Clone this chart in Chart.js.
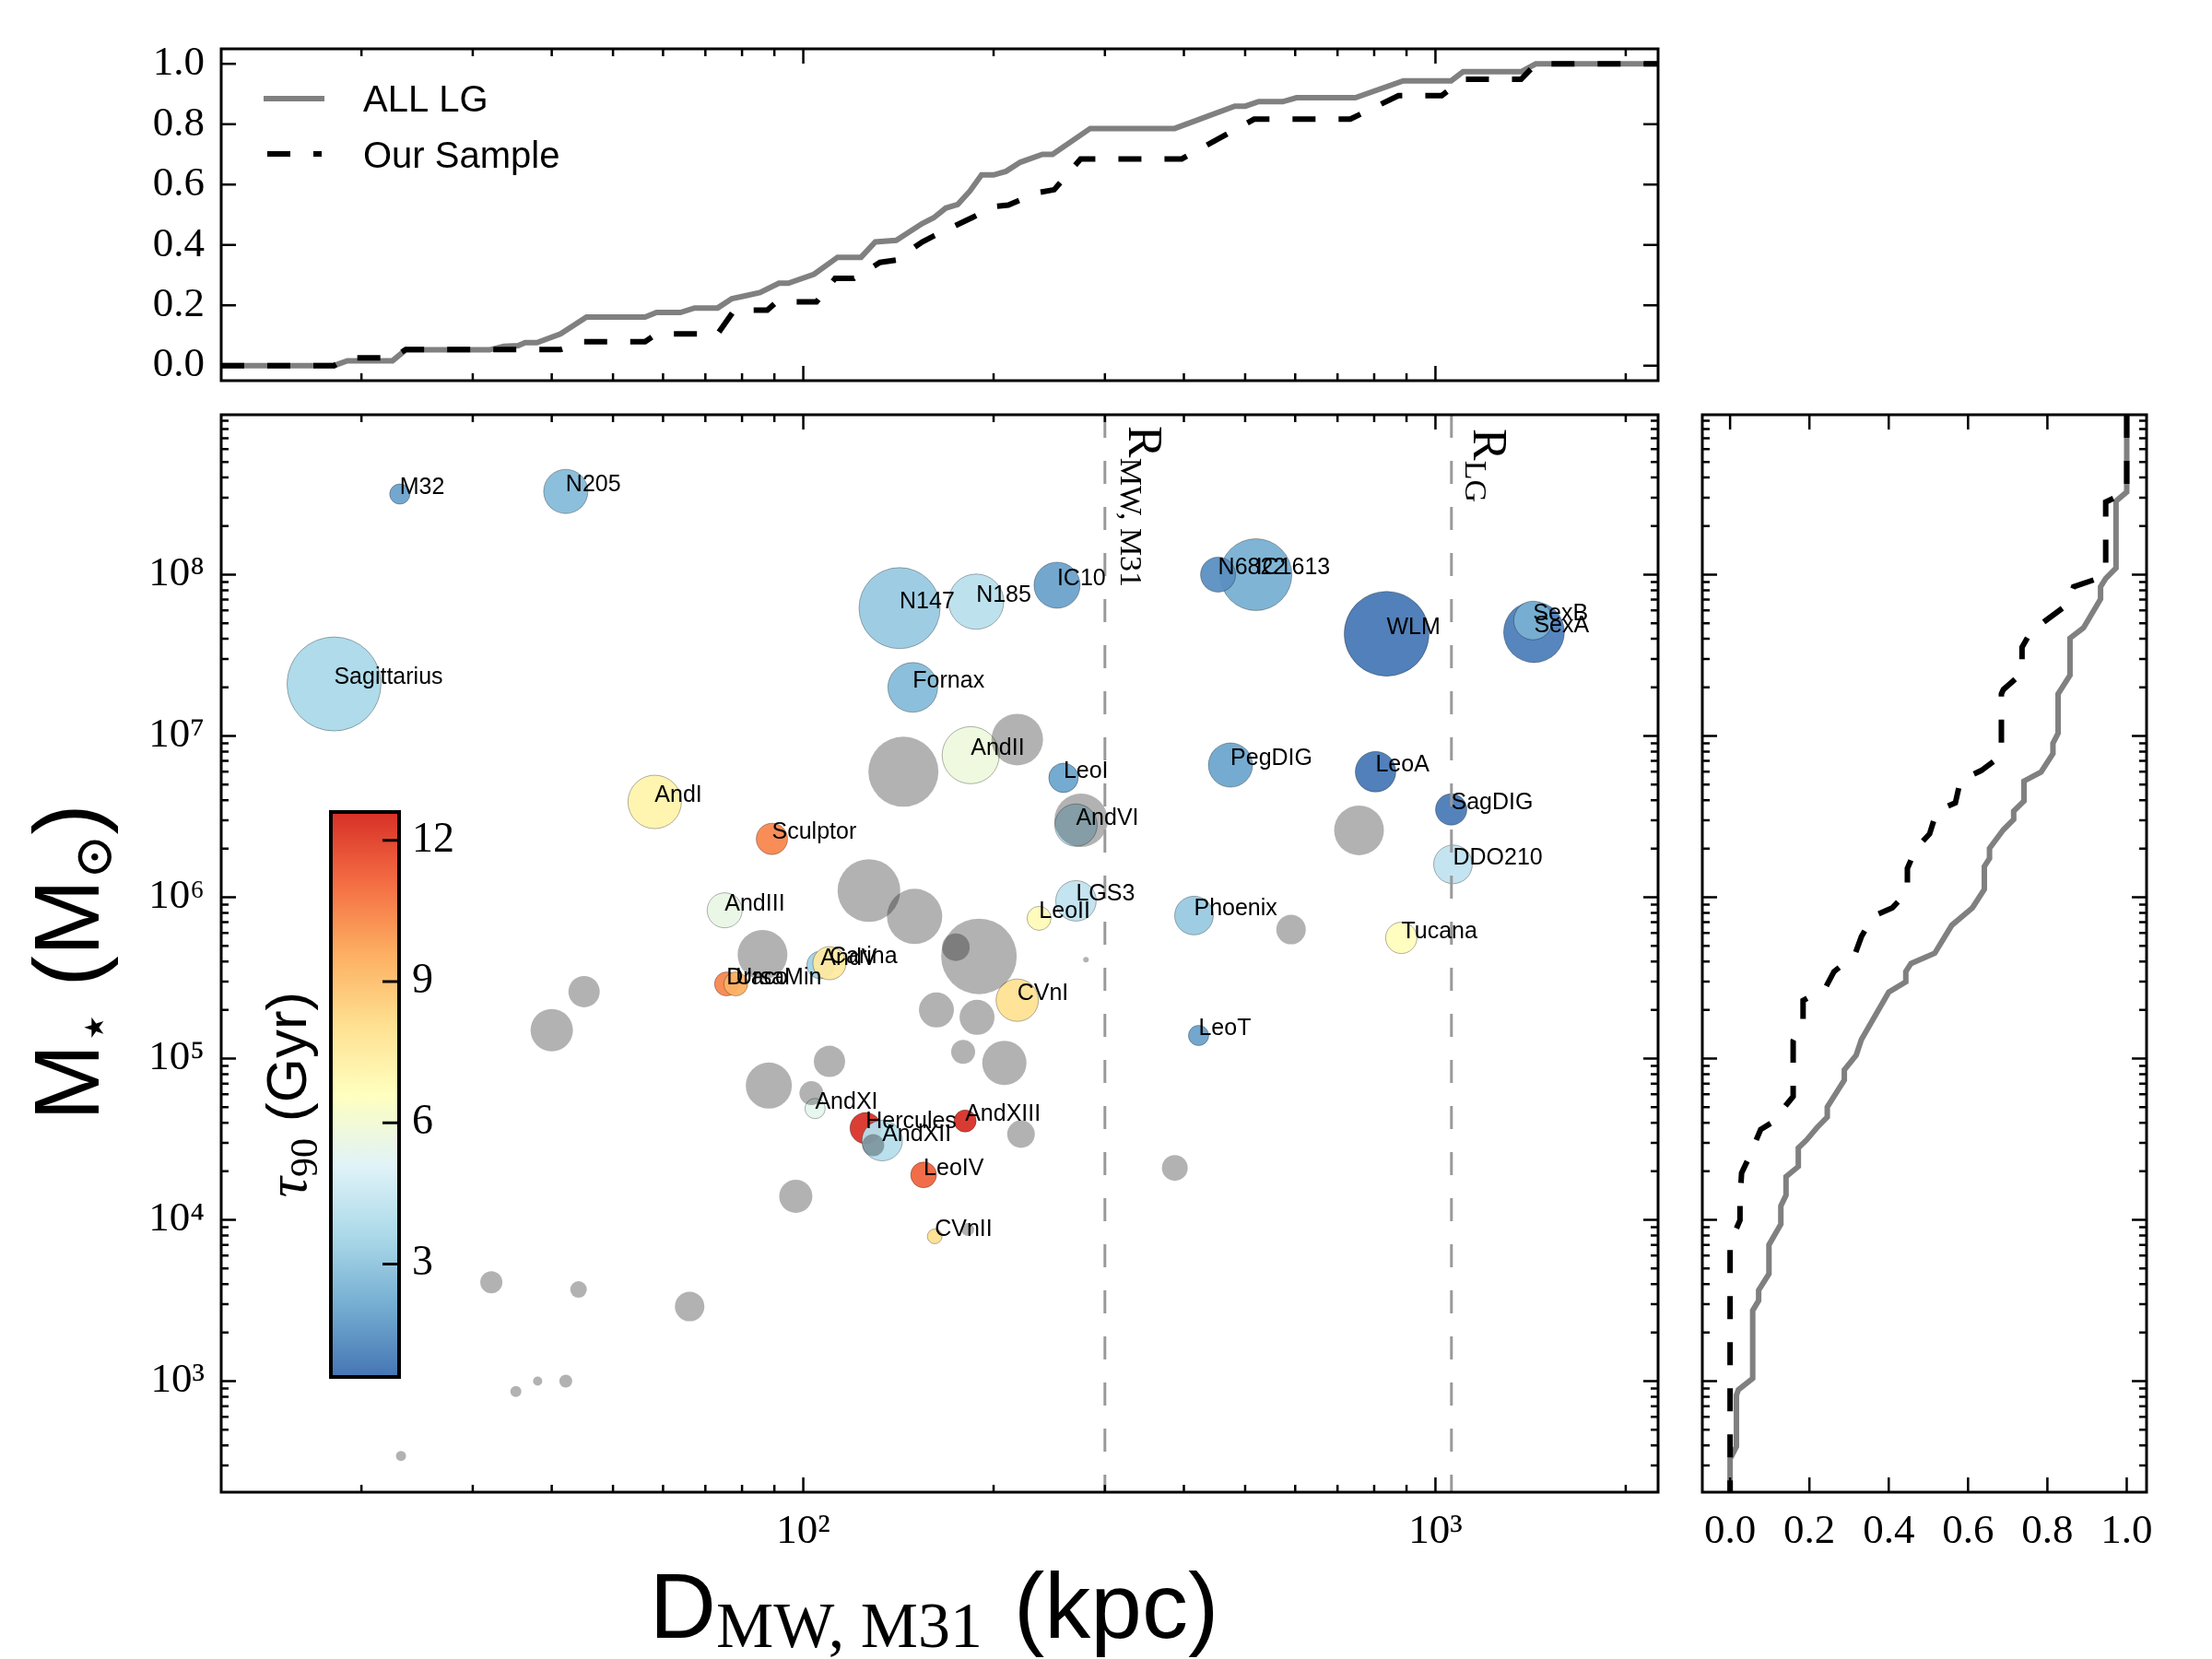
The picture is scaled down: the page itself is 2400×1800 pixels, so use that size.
<!DOCTYPE html>
<html>
<head>
<meta charset="utf-8">
<script src="https://cdn.jsdelivr.net/npm/chart.js@4.4.1/dist/chart.umd.min.js"></script>
<style>
  html, body { margin: 0; padding: 0; background: #fff; }
  #wrap { position: relative; width: 2400px; height: 1800px; background: #fff; }
  canvas { position: absolute; }
</style>
</head>
<body>
<div id="wrap">
  <canvas id="top" width="1830" height="430" style="left:0px;top:0px"></canvas>
  <canvas id="main" width="1830" height="1370" style="left:0px;top:430px"></canvas>
  <canvas id="side" width="570" height="1370" style="left:1830px;top:430px"></canvas>
  <canvas id="cbar" width="270" height="660" style="left:250px;top:860px"></canvas>
</div>
<script>
// 我们样本中的矮星系（彩色点）
const names = ['Sagittarius', 'M32', 'N205', 'AndI', 'AndIII', 'Draco', 'UrsaMin', 'Sculptor',
  'AndXI', 'AndV', 'Carina', 'Hercules', 'AndXII', 'N147', 'Fornax', 'LeoIV', 'CVnII', 'AndXIII',
  'AndII', 'N185', 'CVnI', 'LeoII', 'IC10', 'LeoI', 'AndVI', 'LGS3', 'Phoenix', 'LeoT',
  'IC1613', 'N6822', 'PegDIG', 'LeoA', 'WLM', 'Tucana', 'SagDIG', 'DDO210', 'SexA', 'SexB'];
const distKpc = [18.1, 23.0, 42.1, 58.2, 75.1, 75.6, 78.2, 89.2,
  104.4, 106.5, 110, 125.5, 133.3, 142, 149, 155, 161.4, 180.3,
  184, 187.7, 218, 236, 252, 258, 270, 270, 415, 422,
  520, 453, 474, 804, 837, 883, 1059, 1066, 1432, 1427];
const mStar = [2.1e7, 3.16e8, 3.28e8, 3.9e6, 8.3e5, 2.9e5, 2.9e5, 2.3e6,
  4.9e4, 3.8e5, 3.9e5, 3.7e4, 3.1e4, 6.2e7, 2.0e7, 1.9e4, 7.9e3, 4.1e4,
  7.6e6, 6.8e7, 2.3e5, 7.4e5, 8.6e7, 5.5e6, 2.8e6, 9.5e5, 7.7e5, 1.39e5,
  1.0e8, 1.0e8, 6.6e6, 6.0e6, 4.3e7, 5.6e5, 3.5e6, 1.6e6, 4.4e7, 5.2e7];
const tau90 = [3.6, 1.8, 2.6, 7.2, 5.6, 10.5, 9.5, 10.5,
  5.4, 3.4, 7.6, 12.5, 3.9, 3.1, 2.6, 11.3, 8.1, 12.6,
  5.8, 4.0, 8.0, 6.8, 1.8, 1.9, 4.0, 4.2, 3.1, 1.8,
  2.2, 1.3, 1.9, 0.7, 0.7, 6.7, 0.8, 4.2, 0.9, 2.2];
const markerR = [51, 11, 24, 29, 19, 13, 13, 17,
  11, 15, 18, 17, 22, 44, 27, 14, 8, 12,
  31, 30, 23, 13, 25, 16, 23, 22, 21, 11,
  39, 19, 24, 22, 46, 17, 17, 21, 33, 21];

// 其余本星系群星系（灰色点）
const otherDist = [144, 218, 127, 150, 86.2, 189.6, 174.3, 275, 45, 40, 162.4, 188.3, 179, 208,
  110, 88.2, 103, 129, 221, 97.3, 182, 387, 591, 757, 280, 32.1, 44.1, 66.1, 35.1, 38.0, 42.1, 23.1];
const otherMass = [6.0e6, 9.5e6, 1.1e6, 7.6e5, 4.4e5, 4.3e5, 4.9e5, 3.0e6, 2.6e5, 1.5e5, 2.0e5, 1.8e5, 1.1e5, 9.4e4,
  9.6e4, 6.8e4, 6.1e4, 2.9e4, 3.4e4, 1.4e4, 8.7e3, 2.1e4, 6.3e5, 2.6e6, 4.1e5, 4.1e3, 3.7e3, 2.9e3, 863, 1.0e3, 1.0e3, 344];
const otherR = [38, 28, 34, 30, 27, 41, 15, 29, 17, 23, 19, 19, 13, 24,
  17, 25, 13, 12, 15, 18, 7, 14, 16, 27, 3, 12, 9, 16, 6, 5, 7, 5.5];

// 上图：距离的累积分布
const cdfAllD = [12, 18.1, 19, 22.4, 23.5, 31.9, 33.6, 35.4, 36.3, 37.9, 41.3, 45.4, 56.2, 58.6, 63.9, 67.3,
  73.2, 77.1, 81.2, 85.4, 91.5, 94.7, 104, 113.3, 123.4, 130, 140.3, 154.2, 160.8, 168, 175.5, 183.4,
  191.4, 200, 209.3, 220.4, 238.9, 247.9, 284.4, 386.7, 481.4, 500.4, 525.3, 573.3, 602.8, 746.9,
  889.3, 1059, 1106, 1366, 1441, 2250];
const cdfAllF = [0, 0, 0.016, 0.016, 0.052, 0.052, 0.064, 0.066, 0.076, 0.076, 0.105, 0.161, 0.161, 0.176, 0.176, 0.191,
  0.191, 0.222, 0.232, 0.242, 0.273, 0.273, 0.303, 0.359, 0.359, 0.41, 0.415, 0.471, 0.49, 0.522, 0.534, 0.578,
  0.632, 0.632, 0.644, 0.674, 0.70, 0.70, 0.786, 0.786, 0.86, 0.86, 0.875, 0.875, 0.888, 0.888,
  0.944, 0.944, 0.974, 0.974, 1.0, 1.0];
const cdfOurD = [12, 18.1, 19, 22.4, 23.5, 41.3, 45, 56.2, 58.6, 73.2, 77.8, 87.7, 90.7, 104.9, 112.3, 120.3,
  132.2, 140.3, 154.2, 161, 185.1, 200.4, 211, 234.5, 249.4, 274.6, 396.9, 516.6, 733.3, 874, 1023,
  1106, 1366, 1441, 2250];
const cdfOurF = [0, 0, 0.026, 0.026, 0.053, 0.053, 0.079, 0.079, 0.105, 0.105, 0.184, 0.184, 0.211, 0.211, 0.289, 0.289,
  0.342, 0.35, 0.41, 0.43, 0.491, 0.527, 0.532, 0.573, 0.583, 0.685, 0.685, 0.817, 0.817, 0.895, 0.895,
  0.949, 0.949, 1.0, 1.0];

// 右图：恒星质量的累积分布
const cdfAllMF = [1.0, 1.0, 0.973, 0.973, 0.947, 0.934, 0.934, 0.891, 0.857, 0.857, 0.827, 0.827, 0.814, 0.814,
  0.784, 0.741, 0.741, 0.715, 0.715, 0.689, 0.654, 0.654, 0.641, 0.641, 0.611, 0.559, 0.516, 0.456, 0.443,
  0.443, 0.40, 0.331, 0.318, 0.288, 0.288, 0.245, 0.245, 0.219, 0.193, 0.172, 0.172, 0.141, 0.141, 0.128,
  0.128, 0.098, 0.098, 0.072, 0.072, 0.057, 0.057, 0.021, 0.016, 0.016, 0.0, 0.0];
const cdfAllM = [9.8e8, 3.25e8, 2.86e8, 1.10e8, 9.46e7, 8.41e7, 7.05e7, 4.68e7, 4.04e7, 2.38e7, 1.82e7, 1.04e7, 9.0e6, 7.78e6,
  5.97e6, 5.25e6, 3.95e6, 3.42e6, 3.04e6, 2.62e6, 2.01e6, 1.74e6, 1.55e6, 1.12e6, 8.6e5, 6.71e5, 4.5e5, 3.88e5, 3.46e5,
  2.99e5, 2.58e5, 1.31e5, 1.05e5, 8.5e4, 7.35e4, 5.0e4, 4.33e4, 3.73e4, 3.13e4, 2.79e4, 2.14e4, 1.85e4, 1.42e4, 1.22e4,
  9.4e3, 7.0e3, 4.63e3, 3.66e3, 3.16e3, 2.74e3, 1.04e3, 885, 818, 393, 330, 205];
const cdfOurMF = [1.0, 1.0, 0.947, 0.947, 0.92, 0.866, 0.848, 0.792, 0.758, 0.736, 0.736, 0.689, 0.684, 0.684,
  0.633, 0.581, 0.568, 0.521, 0.503, 0.469, 0.447, 0.447, 0.409, 0.361, 0.331, 0.314, 0.262, 0.24, 0.184,
  0.184, 0.159, 0.159, 0.146, 0.107, 0.077, 0.047, 0.029, 0.025, 0.025, 0.0, 0.0];
const cdfOurM = [9.8e8, 3.25e8, 2.82e8, 1.07e8, 9.33e7, 8.41e7, 6.46e7, 5.11e7, 4.41e7, 3.55e7, 2.45e7, 1.94e7, 1.82e7, 7.55e6,
  6.1e6, 5.33e6, 3.85e6, 3.42e6, 2.47e6, 2.01e6, 1.51e6, 1.08e6, 8.6e5, 7.64e5, 5.69e5, 4.37e5, 3.46e5, 2.73e5, 2.29e5,
  1.71e5, 1.29e5, 5.82e4, 5.32e4, 4.03e4, 3.63e4, 2.42e4, 1.95e4, 1.33e4, 9.95e3, 7.2e3, 205];

// 坐标轴范围与刻度
const xRange = [12, 2250];
const yRange = [205, 9.8e8];
const fracRangeTop = [-0.05, 1.05];
const fracRangeSide = [-0.07, 1.05];
const xMajor = [100, 1000];
const yMajor = [1e3, 1e4, 1e5, 1e6, 1e7, 1e8];
const fracTicks = [0, 0.2, 0.4, 0.6, 0.8, 1.0];
const cbarRange = [0.6, 12.6];
const cbarTicks = [3, 6, 9, 12];
const rLineD = [300, 1060];

// 配色 (RdYlBu 9 色, 反转)
const cmapStops = ['#4575b4', '#74add1', '#abd9e9', '#e0f3f8', '#ffffbf', '#fee090', '#fdae61', '#f46d43', '#d73027'];

Chart.defaults.animation = false;
Chart.defaults.responsive = false;
Chart.defaults.devicePixelRatio = 1;
Chart.defaults.events = [];
Chart.defaults.plugins.legend.display = false;
Chart.defaults.plugins.tooltip.enabled = false;
Chart.defaults.color = '#000';

const SERIF = '"Liberation Serif", "DejaVu Serif", serif';
const SANS = '"Liberation Sans", Arial, sans-serif';
const tickFont = { family: SERIF, size: 45 };
const sup = { 2: '\u00b2', 3: '\u00b3', 4: '\u2074', 5: '\u2075', 6: '\u2076', 7: '\u2077', 8: '\u2078' };

function hexRgb(h) {
  return [parseInt(h.slice(1, 3), 16), parseInt(h.slice(3, 5), 16), parseInt(h.slice(5, 7), 16)];
}

// 根据 tau90 取颜色
function cmap(v, alpha) {
  let t = (v - cbarRange[0]) / (cbarRange[1] - cbarRange[0]);
  t = Math.max(0, Math.min(1, t));
  const pos = t * (cmapStops.length - 1);
  const i = Math.min(Math.floor(pos), cmapStops.length - 2);
  const f = pos - i;
  const a = hexRgb(cmapStops[i]), b = hexRgb(cmapStops[i + 1]);
  const c = a.map((x, k) => Math.round(x + (b[k] - x) * f));
  return `rgba(${c[0]}, ${c[1]}, ${c[2]}, ${alpha})`;
}

function logMinors(lo, hi) {
  const out = [];
  for (let e = Math.floor(Math.log10(lo)); e <= Math.ceil(Math.log10(hi)); e++) {
    for (let m = 2; m <= 9; m++) {
      const v = m * Math.pow(10, e);
      if (v > lo && v < hi) out.push(v);
    }
  }
  return out;
}

// 固定坐标轴占位大小
function fixAxis(size, dim) {
  return (s) => {
    s[dim] = size;
    s.paddingTop = 0; s.paddingBottom = 0; s.paddingLeft = 0; s.paddingRight = 0;
  };
}

function setTicks(vals) {
  return (s) => { s.ticks = vals.map(v => ({ value: v })); };
}

// 混合字体文字（下标等）
function drawRich(ctx, parts, x, y, angle, anchor) {
  ctx.save();
  let w = 0;
  parts.forEach(p => {
    if (p.gap) { w += p.gap; return; }
    ctx.font = p.font;
    p.w = ctx.measureText(p.t).width;
    w += p.w;
  });
  ctx.translate(x, y);
  ctx.rotate(angle);
  ctx.fillStyle = '#000';
  ctx.textBaseline = 'alphabetic';
  ctx.textAlign = 'left';
  let cx = anchor === 'center' ? -w / 2 : 0;
  parts.forEach(p => {
    if (p.gap) { cx += p.gap; return; }
    ctx.font = p.font;
    ctx.fillText(p.t, cx, p.dy || 0);
    cx += p.w;
  });
  ctx.restore();
}

// 向内的刻度线和边框
function frameTicks(spec) {
  return {
    id: 'frameTicks',
    afterDraw(chart) {
      const { ctx, chartArea: a } = chart;
      const xs = chart.scales.x, ys = chart.scales.y;
      ctx.save();
      ctx.strokeStyle = '#000';
      ctx.lineWidth = 2.5;
      ctx.beginPath();
      const xt = (vals, len) => vals.forEach(v => {
        const p = xs.getPixelForValue(v);
        if (p < a.left + 1 || p > a.right - 1) return;
        ctx.moveTo(p, a.bottom); ctx.lineTo(p, a.bottom - len);
        ctx.moveTo(p, a.top); ctx.lineTo(p, a.top + len);
      });
      const yt = (vals, len) => vals.forEach(v => {
        const p = ys.getPixelForValue(v);
        if (p < a.top + 1 || p > a.bottom - 1) return;
        ctx.moveTo(a.left, p); ctx.lineTo(a.left + len, p);
        ctx.moveTo(a.right, p); ctx.lineTo(a.right - len, p);
      });
      xt(spec.xMajor || [], 16); xt(spec.xMinor || [], 8);
      yt(spec.yMajor || [], 16); yt(spec.yMinor || [], 8);
      ctx.stroke();
      ctx.lineWidth = 3;
      ctx.strokeRect(a.left, a.top, a.right - a.left, a.bottom - a.top);
      ctx.restore();
    }
  };
}

const xMinor = logMinors(xRange[0], xRange[1]);
const yMinor = logMinors(yRange[0], yRange[1]);

// ---------- 上图 ----------
const legendPlugin = {
  id: 'cdfLegend',
  afterDraw(chart) {
    const ctx = chart.ctx;
    ctx.save();
    ctx.lineWidth = 6;
    ctx.strokeStyle = '#808080';
    ctx.beginPath(); ctx.moveTo(286, 107); ctx.lineTo(352, 107); ctx.stroke();
    ctx.strokeStyle = '#000';
    ctx.setLineDash([25, 25]);
    ctx.beginPath(); ctx.moveTo(290, 167); ctx.lineTo(349, 167); ctx.stroke();
    ctx.setLineDash([]);
    ctx.fillStyle = '#000';
    ctx.font = '40px ' + SANS;
    ctx.textBaseline = 'alphabetic';
    ctx.fillText('ALL LG', 394, 121);
    ctx.fillText('Our Sample', 394, 182);
    ctx.restore();
  }
};

new Chart(document.getElementById('top'), {
  type: 'scatter',
  data: {
    datasets: [
      { label: 'Our Sample', data: cdfOurD.map((d, i) => ({ x: d, y: cdfOurF[i] })), showLine: true,
        borderColor: '#000', borderWidth: 6, borderDash: [25, 25], pointRadius: 0, order: 0 },
      { label: 'ALL LG', data: cdfAllD.map((d, i) => ({ x: d, y: cdfAllF[i] })), showLine: true,
        borderColor: '#808080', borderWidth: 6, pointRadius: 0, order: 1 }
    ]
  },
  options: {
    layout: { autoPadding: false, padding: { top: 53, right: 31, bottom: 17, left: 0 } },
    scales: {
      x: { type: 'logarithmic', min: xRange[0], max: xRange[1], display: false },
      y: {
        type: 'linear', min: fracRangeTop[0], max: fracRangeTop[1],
        afterBuildTicks: setTicks(fracTicks), afterFit: fixAxis(240, 'width'),
        grid: { display: false, drawTicks: false }, border: { display: false },
        ticks: { padding: 18, font: tickFont, color: '#000', autoSkip: false, callback: v => v.toFixed(1) }
      }
    }
  },
  plugins: [frameTicks({ xMajor, xMinor, yMajor: fracTicks }), legendPlugin]
});

// ---------- 主图 ----------
const labelPlugin = {
  id: 'galaxyLabels',
  afterDatasetsDraw(chart) {
    const { ctx, chartArea: a } = chart;
    const xs = chart.scales.x, ys = chart.scales.y;
    ctx.save();
    ctx.fillStyle = '#000';
    ctx.font = '25px ' + SANS;
    ctx.textBaseline = 'alphabetic';
    ctx.textAlign = 'left';
    names.forEach((n, i) => {
      ctx.fillText(n, xs.getPixelForValue(distKpc[i]), ys.getPixelForValue(mStar[i]));
    });
    ctx.restore();
    // R_MW,M31 与 R_LG
    drawRich(ctx, [
      { t: 'R', font: '52px ' + SERIF },
      { t: 'MW, M31', font: '34px ' + SERIF, dy: 9 }
    ], xs.getPixelForValue(rLineD[0]) + 26, a.top + 12, Math.PI / 2, 'start');
    drawRich(ctx, [
      { t: 'R', font: '52px ' + SERIF },
      { t: 'LG', font: '34px ' + SERIF, dy: 9 }
    ], xs.getPixelForValue(rLineD[1]) + 24, a.top + 15, Math.PI / 2, 'start');
  },
  afterDraw(chart) {
    const { ctx, chartArea: a } = chart;
    const cx = (a.left + a.right) / 2 - 6;
    drawRich(ctx, [
      { t: 'D', font: '100px ' + SANS },
      { t: 'MW, M31', font: '70px ' + SERIF, dy: 10 },
      { gap: 34 },
      { t: '(kpc)', font: '100px ' + SANS }
    ], cx, 1347, 0, 'center');
    drawRich(ctx, [
      { t: 'M', font: '100px ' + SANS },
      { t: '\u22c6', font: '58px "DejaVu Serif"', dy: 14 },
      { gap: 26 },
      { t: '(M', font: '100px ' + SANS },
      { t: '\u2299', font: '58px "DejaVu Serif"', dy: 14 },
      { t: ')', font: '100px ' + SANS }
    ], 107, 614, -Math.PI / 2, 'center');
  }
};

new Chart(document.getElementById('main'), {
  type: 'bubble',
  data: {
    datasets: [
      ...rLineD.map(d => ({
        type: 'scatter', data: [{ x: d, y: yRange[1] }, { x: d, y: yRange[0] }], showLine: true,
        borderColor: '#999999', borderWidth: 3, borderDash: [25, 25], pointRadius: 0, order: 0
      })),
      { label: 'other', data: otherDist.map((d, i) => ({ x: d, y: otherMass[i], r: otherR[i] })),
        backgroundColor: 'rgba(0, 0, 0, 0.3)', borderWidth: 0, order: 1 },
      { label: 'sample', data: distKpc.map((d, i) => ({ x: d, y: mStar[i], r: markerR[i] })),
        backgroundColor: tau90.map(t => cmap(t, 0.95)), borderColor: 'rgba(0, 0, 0, 0.3)', borderWidth: 1, order: 2 }
    ]
  },
  options: {
    layout: { autoPadding: false, padding: { top: 20, right: 31, bottom: 0, left: 0 } },
    scales: {
      x: {
        type: 'logarithmic', min: xRange[0], max: xRange[1],
        afterBuildTicks: setTicks(xMajor), afterFit: fixAxis(181, 'height'),
        grid: { display: false, drawTicks: false }, border: { display: false },
        ticks: { padding: 16, font: tickFont, color: '#000', autoSkip: false, maxRotation: 0,
          callback: v => '10' + sup[Math.round(Math.log10(v))] }
      },
      y: {
        type: 'logarithmic', min: yRange[0], max: yRange[1],
        afterBuildTicks: setTicks(yMajor), afterFit: fixAxis(240, 'width'),
        grid: { display: false, drawTicks: false }, border: { display: false },
        ticks: { padding: 18, font: tickFont, color: '#000', autoSkip: false,
          callback: v => '10' + sup[Math.round(Math.log10(v))] }
      }
    }
  },
  plugins: [frameTicks({ xMajor, xMinor, yMajor, yMinor }), labelPlugin]
});

// ---------- 右图 ----------
new Chart(document.getElementById('side'), {
  type: 'scatter',
  data: {
    datasets: [
      { label: 'Our Sample', data: cdfOurM.map((m, i) => ({ x: cdfOurMF[i], y: m })), showLine: true,
        borderColor: '#000', borderWidth: 6, borderDash: [25, 25], pointRadius: 0, order: 0 },
      { label: 'ALL LG', data: cdfAllM.map((m, i) => ({ x: cdfAllMF[i], y: m })), showLine: true,
        borderColor: '#808080', borderWidth: 6, pointRadius: 0, order: 1 }
    ]
  },
  options: {
    layout: { autoPadding: false, padding: { top: 20, right: 71, bottom: 0, left: 17 } },
    scales: {
      x: {
        type: 'linear', min: fracRangeSide[0], max: fracRangeSide[1],
        afterBuildTicks: setTicks(fracTicks), afterFit: fixAxis(181, 'height'),
        grid: { display: false, drawTicks: false }, border: { display: false },
        ticks: { padding: 16, font: tickFont, color: '#000', autoSkip: false, maxRotation: 0,
          callback: v => v.toFixed(1) }
      },
      y: { type: 'logarithmic', min: yRange[0], max: yRange[1], display: false }
    }
  },
  plugins: [frameTicks({ xMajor: fracTicks, yMajor, yMinor })]
});

// ---------- 色标 ----------
const cbarPlugin = {
  id: 'cbarFrame',
  afterDraw(chart) {
    const { ctx, chartArea: a } = chart;
    const ys = chart.scales.y;
    ctx.save();
    ctx.strokeStyle = '#000';
    ctx.lineWidth = 3;
    ctx.beginPath();
    cbarTicks.forEach(v => {
      const p = ys.getPixelForValue(v);
      ctx.moveTo(a.right, p); ctx.lineTo(a.right - 18, p);
    });
    ctx.stroke();
    ctx.lineWidth = 4;
    ctx.strokeRect(a.left, a.top, a.right - a.left, a.bottom - a.top);
    ctx.restore();
    drawRich(ctx, [
      { t: '\u03c4', font: 'italic 62px ' + SERIF },
      { t: '90', font: '42px ' + SERIF, dy: 12 },
      { gap: 18 },
      { t: '(Gyr)', font: '62px ' + SANS }
    ], 82, (a.top + a.bottom) / 2, -Math.PI / 2, 'center');
  }
};

new Chart(document.getElementById('cbar'), {
  type: 'bar',
  data: {
    labels: ['tau90'],
    datasets: [{
      data: [cbarRange],
      barPercentage: 1, categoryPercentage: 1, borderWidth: 0,
      backgroundColor: (c) => {
        const a = c.chart.chartArea;
        if (!a) return cmapStops[0];
        const g = c.chart.ctx.createLinearGradient(0, a.bottom, 0, a.top);
        cmapStops.forEach((s, i) => g.addColorStop(i / (cmapStops.length - 1), s));
        return g;
      }
    }]
  },
  options: {
    layout: { autoPadding: false, padding: { top: 21, right: 0, bottom: 26, left: 109 } },
    scales: {
      x: { display: false },
      y: {
        type: 'linear', position: 'right', min: cbarRange[0], max: cbarRange[1],
        afterBuildTicks: setTicks(cbarTicks), afterFit: fixAxis(87, 'width'),
        grid: { display: false, drawTicks: false }, border: { display: false },
        ticks: { padding: 14, font: { family: SERIF, size: 46 }, color: '#000', autoSkip: false }
      }
    }
  },
  plugins: [cbarPlugin]
});
</script>
</body>
</html>
